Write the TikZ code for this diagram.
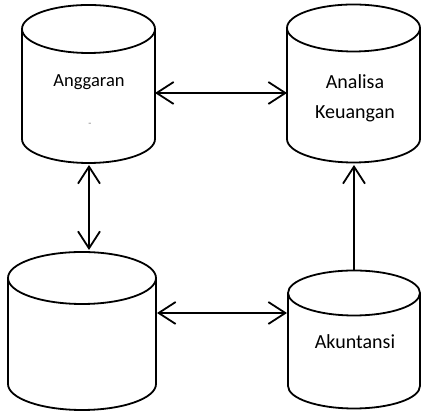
\documentclass[tikz,border=0pt]{standalone}
\usepackage{fontspec}
\setmainfont{Carlito}
\usetikzlibrary{arrows.meta}
\tikzset{
  cylline/.style={line width=1.8pt, fill=white},
  conn/.style={line width=1.8pt, {Straight Barb[length=17pt,width=22pt,line width=1.8pt]}-{Straight Barb[length=17pt,width=22pt,line width=1.8pt]}},
  connone/.style={line width=1.8pt, -{Straight Barb[length=17pt,width=22pt,line width=1.8pt]}},
  lbl/.style={inner sep=0pt, align=center, font=\fontsize{20}{30}\selectfont},
}
\newcommand{\mycyl}[5]{% cx, rx, top center y, bottom center y, ry
  \draw[cylline] (#1-#2,#3) -- (#1-#2,#4) arc[start angle=180,end angle=360,x radius=#2,y radius=#5] -- (#1+#2,#3);
  \draw[cylline] (#1,#3) ellipse[x radius=#2, y radius=#5];
}
\begin{document}
\begin{tikzpicture}[x=1pt,y=1pt]
\useasboundingbox (0,0) rectangle (421,411);
\mycyl{88.5}{66.5}{382}{272}{24}
\mycyl{353.5}{66.5}{383}{272}{23.5}
\mycyl{82}{74}{133}{27}{26}
\mycyl{354}{66}{118}{25}{22.5}
\node[lbl, font=\fontsize{18.5}{22}\selectfont] (ang) at (89,329) {Anggaran};
\node[inner sep=0pt, text=gray, font=\fontsize{10}{12}\selectfont] (dash) at (90,286) {-};
\node[lbl] (ana) at (355,313) {Analisa\\Keuangan};
\node[lbl] (aku) at (355,69) {Akuntansi};
\coordinate (angE) at (155,318);
\coordinate (anaW) at (287,318);
\coordinate (angS) at (89,246);
\coordinate (blkN) at (89,161);
\coordinate (blkE) at (157,98);
\coordinate (akuW) at (287,98);
\coordinate (akuN) at (354,141);
\coordinate (anaS) at (354,246);
\draw[conn] (angE) -- (anaW);
\draw[conn] (angS) -- (blkN);
\draw[conn] (blkE) -- (akuW);
\draw[connone] (akuN) -- (anaS);
\end{tikzpicture}
\end{document}
